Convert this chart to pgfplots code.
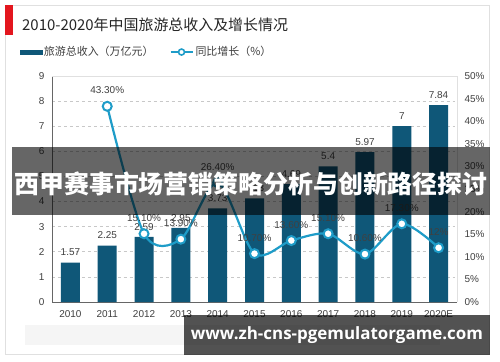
\documentclass[border=0pt]{standalone}
\usepackage{pgfplots}
\pgfplotsset{compat=1.18}
\usepackage{fontspec}
\setmainfont{Liberation Sans}
\newfontfamily\cjk{Noto Sans CJK SC}
\newfontfamily\urlfont{Open Sans}
\definecolor{barc}{HTML}{0F5778}
\definecolor{linec}{HTML}{1E9CC8}
\definecolor{txt}{HTML}{404040}
\definecolor{gridc}{HTML}{C8C8C8}
\definecolor{redbar}{HTML}{E3161E}
\pgfplotstableread{
x y
0 1.57
1 2.25
2 2.59
3 2.95
4 3.73
5 4.13
6 4.69
7 5.4
8 5.97
9 7
10 7.84
}\revenue
\pgfplotstableread{
x y lab
1 43.3 43.30\%
2 15.1 15.10\%
3 13.9 13.90\%
4 26.4 26.40\%
5 10.7 10.70\%
6 13.6 13.60\%
7 15.1 15.10\%
8 10.6 10.60\%
9 17.3 17.30\%
10 12 12\%
}\growth
\begin{document}
\begin{tikzpicture}
\useasboundingbox (0,0) rectangle (500bp,-362bp);
\fill[white] (0,0) rectangle (500bp,-362bp);
\draw[black!12, line width=1bp] (5bp,-5bp) rectangle (489bp,-354bp);
\fill[redbar] (5bp,-5bp) rectangle (12.5bp,-35bp);
\fill[black!4] (25bp,-325bp) rectangle (440bp,-345bp);
\node[anchor=west, font=\cjk\fontsize{15}{18}\selectfont, text=black!85, inner sep=0pt] at (22bp,-25bp) {2010-2020年中国旅游总收入及增长情况};
\begin{axis}[
  at={(52bp,-302bp)}, anchor=south west,
  scale only axis, width=405bp, height=226bp,
  xmin=-0.5, xmax=10.5, ymin=0, ymax=9,
  axis x line*=bottom, axis y line*=left,
  axis line style={black!60, line width=1bp},
  xtick={0,...,10},
  xticklabels={2010,2011,2012,2013,2014,2015,2016,2017,2018,2019,2020E},
  ytick={0,...,9},
  major tick length=0pt,
  ymajorgrids, grid style={gridc, dashed, line width=0.6bp},
  tick label style={font=\fontsize{10}{12}\selectfont, text=txt},
  xticklabel style={yshift=-5.5bp},
  yticklabel style={xshift=-4bp},
  /pgf/number format/assume math mode=true,
]
\addplot[ybar, bar width=19bp, fill=barc, draw=none,
  nodes near coords,
  nodes near coords style={font=\fontsize{10}{12}\selectfont, text=txt, yshift=3bp},
] table[x=x, y=y] {\revenue};
\end{axis}
\begin{axis}[
  at={(52bp,-302bp)}, anchor=south west,
  scale only axis, width=405bp, height=226bp,
  xmin=-0.5, xmax=10.5, ymin=0, ymax=50,
  axis x line*=top, axis y line*=right,
  axis line style={black!12, line width=1bp},
  xtick=\empty,
  ytick={0,5,...,50},
  yticklabel={\pgfmathprintnumber{\tick}\%},
  major tick length=0pt,
  tick label style={font=\fontsize{10}{12}\selectfont, text=txt},
  yticklabel style={xshift=4bp},
  /pgf/number format/assume math mode=true,
  legend style={at={(-0.088,1.106)}, anchor=west, draw=none, fill=none,
    legend columns=2, font=\cjk\fontsize{11}{13}\selectfont, text=txt,
    /tikz/every even column/.append style={column sep=14bp}},
]
\addlegendimage{legend image code/.code={\fill[barc] (0bp,-2.2bp) rectangle (22bp,2.2bp);}}
\addlegendentry{旅游总收入（万亿元）}
\addlegendimage{legend image code/.code={\draw[linec, line width=2bp] (0bp,0bp) -- (22bp,0bp);
  \draw[linec, line width=1.6bp, fill=white] (11bp,0bp) circle (3bp);}}
\addlegendentry{同比增长（\%）}
\addplot[linec, line width=2.2bp, smooth, tension=0.5, forget plot,
  mark=*, mark size=4.5bp, mark options={fill=white, draw=linec, line width=2bp},
  point meta=explicit symbolic,
  nodes near coords,
  nodes near coords style={font=\fontsize{10}{12}\selectfont, text=txt, yshift=8bp},
] table[x=x, y=y, meta=lab] {\growth};
\end{axis}
\fill[black, opacity=0.6] (12bp,-147bp) rectangle (490bp,-215bp);
\node[font=\cjk\bfseries\fontsize{25}{30}\selectfont, text=white, inner sep=0pt] at (251bp,-184bp) {西甲赛事市场营销策略分析与创新路径探讨};
\fill[black, opacity=0.68] (184bp,-315bp) rectangle (490bp,-355bp);
\node[font=\urlfont\bfseries\fontsize{17}{20}\selectfont, text=white, inner sep=0pt] at (337bp,-335bp) {www.zh-cns-pgemulatorgame.com};
\end{tikzpicture}
\end{document}
